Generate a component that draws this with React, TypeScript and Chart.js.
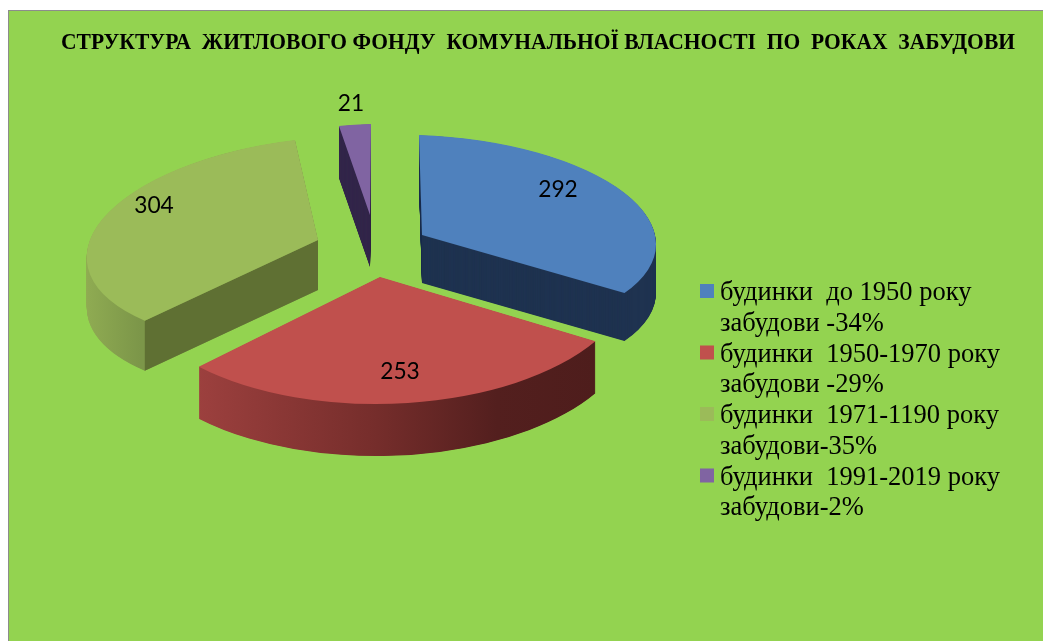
import React, { useEffect, useRef } from "react";
import { Chart, registerables } from "chart.js";

Chart.register(...registerables);

const titleText = "СТРУКТУРА  ЖИТЛОВОГО ФОНДУ  КОМУНАЛЬНОЇ ВЛАСНОСТІ  ПО  РОКАХ  ЗАБУДОВИ";
const categories = [
  ["будинки  до 1950 року", "забудови -34%"],
  ["будинки  1950-1970 року", "забудови -29%"],
  ["будинки  1971-1190 року", "забудови-35%"],
  ["будинки  1991-2019 року", "забудови-2%"],
];
const values = [292, 253, 304, 21];
const colors = ["#4F81BD", "#C0504D", "#9BBB59", "#8064A2"];

// Each slice's own projection of the unit circle onto the page (a perspective look).
const projections = [
  { a: 234, b: 8, c: 3, d: 100, cx: 422, cy: 235, depth: 48 },
  { a: 252, b: -1, c: -2, d: 127, cx: 380, cy: 277, depth: 52 },
  { a: 231, b: -12, c: -12, d: 103, cx: 318, cy: 240, depth: 50 },
  { a: 212, b: -6, c: -1, d: 91, cx: 370, cy: 215, depth: 52 },
];
const labelAnchors = [
  [558, 189],
  [400, 371],
  [154, 205],
  [351, 103],
];
const drawOrder = [2, 3, 0, 1];

const pie3d = {
  id: "pie3d",
  beforeDraw(chart: any) {
    const { ctx, width, height } = chart;
    ctx.save();
    ctx.fillStyle = "#ffffff";
    ctx.fillRect(0, 0, width, height);
    ctx.fillStyle = "#8C8C8C";
    ctx.fillRect(8, 10, width - 8, height - 10);
    ctx.fillStyle = "#93D350";
    ctx.fillRect(9, 11, width - 9, height - 11);
    ctx.restore();
  },
  beforeDatasetDraw(chart: any) {
    const { ctx } = chart;
    const meta = chart.getDatasetMeta(0);
    const redGrad = ctx.createLinearGradient(199, 0, 596, 0);
    redGrad.addColorStop(0, "#9C403E");
    redGrad.addColorStop(0.45, "#752D2B");
    redGrad.addColorStop(0.75, "#531F1E");
    redGrad.addColorStop(1, "#4E1D1C");
    const oliveGrad = ctx.createLinearGradient(87, 0, 140, 0);
    oliveGrad.addColorStop(0, "#8FAB52");
    oliveGrad.addColorStop(1, "#7C9649");
    const wallFills = ["#1F3350", redGrad, oliveGrad, "#33264A"];

    for (const i of drawOrder) {
      const arc = meta.data[i];
      const p = projections[i];
      const { startAngle, endAngle, outerRadius, x, y } = arc.getProps(
        ["startAngle", "endAngle", "outerRadius", "x", "y"],
        true,
      );
      // Extruded side of the slice.
      ctx.save();
      ctx.fillStyle = wallFills[i];
      for (let dy = p.depth; dy > 0; dy -= 0.5) {
        ctx.save();
        ctx.transform(p.a, p.b, p.c, p.d, p.cx, p.cy + dy);
        ctx.beginPath();
        ctx.moveTo(0, 0);
        ctx.arc(0, 0, 1, startAngle, endAngle);
        ctx.closePath();
        ctx.restore();
        ctx.fill();
      }
      ctx.restore();

      // The radial cut face of the olive slice is darker than its outer wall.
      if (i === 2) {
        const ex = p.cx + p.a * Math.cos(startAngle) + p.c * Math.sin(startAngle);
        const ey = p.cy + p.b * Math.cos(startAngle) + p.d * Math.sin(startAngle);
        ctx.save();
        ctx.fillStyle = "#5F7033";
        ctx.beginPath();
        ctx.moveTo(p.cx, p.cy);
        ctx.lineTo(ex, ey);
        ctx.lineTo(ex, ey + p.depth);
        ctx.lineTo(p.cx, p.cy + p.depth);
        ctx.closePath();
        ctx.fill();
        ctx.restore();
      }

      // Top face: the library's own arc, through the slice's projection.
      ctx.save();
      ctx.transform(
        p.a / outerRadius,
        p.b / outerRadius,
        p.c / outerRadius,
        p.d / outerRadius,
        p.cx,
        p.cy,
      );
      ctx.translate(-x, -y);
      arc.draw(ctx);
      ctx.restore();
    }
    return false;
  },
  afterDraw(chart: any) {
    const { ctx } = chart;
    ctx.save();
    ctx.fillStyle = "#000000";
    ctx.textBaseline = "alphabetic";

    ctx.textAlign = "left";
    ctx.font = 'bold 23px "Liberation Serif"';
    ctx.fillText(titleText, 61, 49, 954);

    ctx.textAlign = "center";
    ctx.textBaseline = "middle";
    ctx.font = "24px Lato";
    values.forEach((v, i) => {
      const s = String(v);
      ctx.fillText(s, labelAnchors[i][0], labelAnchors[i][1], s.length * 13.2);
    });

    ctx.textAlign = "left";
    ctx.textBaseline = "alphabetic";
    ctx.font = '26.5px "Liberation Serif"';
    categories.forEach((lines, i) => {
      const y0 = 300 + i * 61.5;
      ctx.fillStyle = colors[i];
      ctx.fillRect(700, y0 - 16, 14, 14);
      ctx.fillStyle = "#000000";
      lines.forEach((line, j) => ctx.fillText(line, 720, y0 + j * 30.7));
    });
    ctx.restore();
  },
};

export default function App() {
  const ref = useRef<HTMLCanvasElement>(null);
  useEffect(() => {
    const chart = new Chart(ref.current!, {
      type: "pie",
      data: {
        labels: categories.map((c) => c.join(" ")),
        datasets: [{ data: values, backgroundColor: colors, borderWidth: 0 }],
      },
      options: {
        responsive: false,
        animation: false,
        plugins: { legend: { display: false }, tooltip: { enabled: false }, title: { display: false } },
      },
      plugins: [pie3d],
    } as any);
    return () => chart.destroy();
  }, []);
  return (
    <canvas
      ref={ref}
      width={1043}
      height={641}
      style={{ position: "fixed", left: 0, top: 0, display: "block" }}
    />
  );
}
